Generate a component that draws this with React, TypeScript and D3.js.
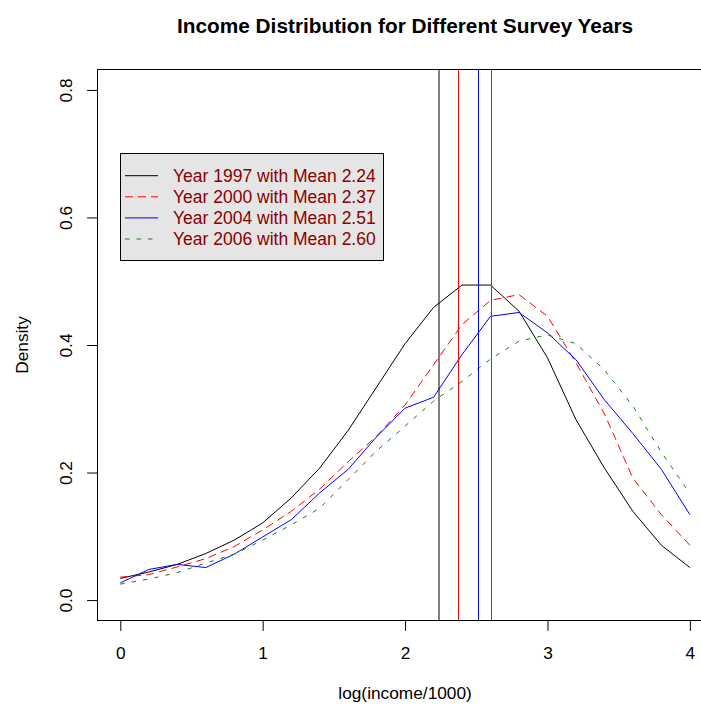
import React, { useEffect, useRef } from "react";
import * as d3 from "d3";

// grid of log(income/1000) values where the densities were evaluated
const xGrid = [0, 0.2, 0.4, 0.6, 0.8, 1.0, 1.2, 1.4, 1.6, 1.8, 2.0, 2.2, 2.4, 2.6, 2.8, 3.0, 3.2, 3.4, 3.6, 3.8, 4.0];

const dens1997 = [0.034, 0.044, 0.056, 0.073, 0.094, 0.121, 0.160, 0.207, 0.266, 0.334, 0.402, 0.459, 0.494, 0.494, 0.453, 0.380, 0.283, 0.207, 0.139, 0.086, 0.051];
const dens2000 = [0.036, 0.040, 0.052, 0.065, 0.084, 0.110, 0.139, 0.174, 0.217, 0.257, 0.306, 0.369, 0.432, 0.470, 0.479, 0.445, 0.372, 0.292, 0.191, 0.134, 0.086];
const dens2004 = [0.027, 0.048, 0.056, 0.051, 0.072, 0.099, 0.126, 0.168, 0.205, 0.256, 0.301, 0.318, 0.385, 0.445, 0.451, 0.419, 0.377, 0.314, 0.261, 0.205, 0.134];
const dens2006 = [0.025, 0.033, 0.043, 0.058, 0.072, 0.094, 0.118, 0.144, 0.189, 0.234, 0.273, 0.312, 0.343, 0.378, 0.406, 0.416, 0.402, 0.361, 0.304, 0.232, 0.167];

const years = ["1997", "2000", "2004", "2006"];
const means = [2.24, 2.37, 2.51, 2.60];
const colors = ["#000000", "#ff0000", "#0000ff", "#1c7a1c"];
const dashes = ["none", "8,5", "none", "4.5,7"];

const xTicks = [0, 1, 2, 3, 4];
const yTicks = [0, 0.2, 0.4, 0.6, 0.8];

const FONT = "'Liberation Sans', Arial, Helvetica, sans-serif";

export default function App() {
  const ref = useRef<SVGSVGElement>(null);

  useEffect(() => {
    const svg = d3.select(ref.current);
    svg.selectAll("*").remove();

    const W = 701, H = 706;
    const left = 97.5, top = 69.5, bottom = 620.5;
    // R pads the axis range by 4% on each side
    const x = d3.scaleLinear().domain([-0.16, 4.16]).range([left, left + 4.32 * 142.4]);
    const y = d3.scaleLinear().domain([-0.032, 0.832]).range([bottom, top]);
    const right = x(4.16);

    svg.attr("width", W).attr("height", H).style("font-family", FONT);

    svg.append("rect").attr("width", W).attr("height", H).attr("fill", "#ffffff");

    svg.append("defs").append("clipPath").attr("id", "plotclip")
      .append("rect")
      .attr("x", left).attr("y", top)
      .attr("width", right - left).attr("height", bottom - top);

    const series = [dens1997, dens2000, dens2004, dens2006];
    const line = d3.line<number>()
      .x((_, i) => x(xGrid[i]))
      .y(d => y(d));

    const plot = svg.append("g").attr("clip-path", "url(#plotclip)");

    series.forEach((s, i) => {
      plot.append("path")
        .attr("d", line(s))
        .attr("fill", "none")
        .attr("stroke", colors[i])
        .attr("stroke-width", 1)
        .attr("stroke-dasharray", dashes[i]);
    });

    // vertical mean lines (abline v=...)
    means.forEach((m, i) => {
      // black one straddles two pixels like the original (looks grey), others crisp
      const px = i === 0 ? Math.round(x(m)) : Math.round(x(m)) + 0.5;
      plot.append("line")
        .attr("x1", px).attr("x2", px)
        .attr("y1", top).attr("y2", bottom)
        .style("stroke", colors[i])
        .style("stroke-width", 1);
    });

    // box
    svg.append("rect")
      .attr("x", left).attr("y", top)
      .attr("width", right - left).attr("height", bottom - top)
      .attr("fill", "none").attr("stroke", "#000").attr("stroke-width", 1);

    // x axis
    const gx = svg.append("g")
      .attr("transform", `translate(0,${bottom})`)
      .call(d3.axisBottom(x).tickValues(xTicks).tickFormat(d3.format("d")).tickSize(10.4).tickSizeOuter(0));
    gx.select(".domain").remove();
    gx.selectAll("line").attr("stroke", "#000");
    gx.selectAll("text")
      .attr("y", 38.9).attr("dy", null)
      .attr("fill", "#000")
      .style("font-size", "17.3px").style("font-family", FONT);

    // y axis
    const gy = svg.append("g")
      .attr("transform", `translate(${left},0)`)
      .call(d3.axisLeft(y).tickValues(yTicks).tickFormat(d3.format(".1f")).tickSize(10.4).tickSizeOuter(0));
    gy.select(".domain").remove();
    gy.selectAll("line").attr("stroke", "#000");
    gy.selectAll("text")
      .attr("x", 0).attr("y", -25.6).attr("dy", null)
      .attr("transform", "rotate(-90)")
      .attr("text-anchor", "middle")
      .attr("fill", "#000")
      .style("font-size", "17.3px").style("font-family", FONT);

    const cx = (left + right) / 2;

    svg.append("text")
      .attr("x", cx).attr("y", 33)
      .attr("text-anchor", "middle")
      .style("font-size", "20.8px").style("font-weight", "bold")
      .text("Income Distribution for Different Survey Years");

    svg.append("text")
      .attr("x", cx).attr("y", 699)
      .attr("text-anchor", "middle")
      .style("font-size", "17.3px")
      .text("log(income/1000)");

    svg.append("text")
      .attr("transform", `translate(27.5,${(top + bottom) / 2}) rotate(-90)`)
      .attr("text-anchor", "middle")
      .style("font-size", "17.3px")
      .text("Density");

    // legend
    const lg = svg.append("g");
    lg.append("rect")
      .attr("x", 120.5).attr("y", 153.5)
      .attr("width", 263).attr("height", 107)
      .attr("fill", "#e5e5e5").attr("stroke", "#000").attr("stroke-width", 1);

    years.forEach((yr, i) => {
      const ry = 175.7 + i * 21.1;
      lg.append("line")
        .attr("x1", 125).attr("x2", 158)
        .attr("y1", ry).attr("y2", ry)
        .style("stroke", colors[i]).style("stroke-width", 1)
        .style("stroke-dasharray", dashes[i]);
      lg.append("text")
        .attr("x", 173).attr("y", ry + 6.3)
        .attr("fill", "#8b0000")
        .style("font-size", "17.5px")
        .text(`Year ${yr} with Mean ${means[i].toFixed(2)}`);
    });
  }, []);

  return (
    <div style={{ position: "fixed", left: 0, top: 0 }}>
      <svg ref={ref} style={{ display: "block" }} />
    </div>
  );
}
